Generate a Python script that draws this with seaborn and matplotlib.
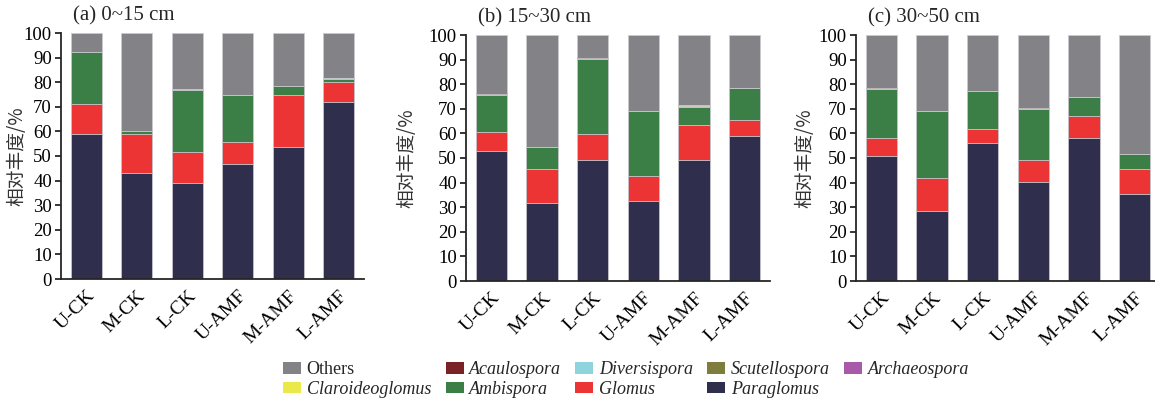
import numpy as np
import pandas as pd
import matplotlib
matplotlib.use("Agg")
import matplotlib.pyplot as plt
from matplotlib.patches import Patch
import seaborn as sns

## data (relative abundance, %), one list per soil depth: (a), (b), (c)
groups = ["U-CK", "M-CK", "L-CK", "U-AMF", "M-AMF", "L-AMF"]
depth_titles = ["(a) 0~15 cm", "(b) 15~30 cm", "(c) 30~50 cm"]

paraglomus = [[59.0, 42.9, 39.1, 46.7, 53.5, 72.0],
              [53.0, 31.7, 49.3, 32.5, 49.3, 59.1],
              [50.8, 28.3, 56.0, 40.1, 58.1, 35.4]]
glomus = [[12.2, 15.9, 12.7, 8.9, 21.1, 8.2],
          [7.7, 13.8, 10.5, 10.3, 14.0, 6.5],
          [7.5, 13.6, 5.8, 9.1, 9.0, 10.0]]
ambispora = [[20.9, 1.2, 24.9, 19.0, 4.0, 1.1],
             [14.9, 9.1, 30.6, 26.4, 7.6, 12.9],
             [19.9, 27.2, 15.4, 20.9, 7.7, 6.1]]
claroideoglomus = [[0, 0, 0.1, 0, 0, 0],
                   [0, 0, 0, 0, 0.3, 0],
                   [0, 0, 0, 0, 0, 0]]
archaeospora = [[0, 0, 0, 0, 0, 0],
                [0, 0, 0, 0, 0, 0],
                [0, 0, 0, 0, 0, 0]]
scutellospora = [[0, 0, 0.3, 0, 0, 0],
                 [0, 0, 0, 0, 0.3, 0],
                 [0, 0, 0, 0, 0, 0.3]]
diversispora = [[0, 0, 0, 0.3, 0, 0.3],
                [0, 0, 0, 0, 0, 0],
                [0, 0, 0, 0, 0, 0]]
acaulospora = [[0.1, 0, 0, 0, 0, 0],
               [0.3, 0, 0.2, 0, 0, 0],
               [0.3, 0, 0, 0.2, 0, 0]]

# bottom -> top stacking order
genera = ["Paraglomus", "Glomus", "Ambispora", "Claroideoglomus",
          "Archaeospora", "Scutellospora", "Diversispora", "Acaulospora", "Others"]
genus_values = [paraglomus, glomus, ambispora, claroideoglomus,
                archaeospora, scutellospora, diversispora, acaulospora]
colors = {"Others": "#838387", "Acaulospora": "#7b2226", "Diversispora": "#8fd3dc",
          "Scutellospora": "#7e7d3e", "Archaeospora": "#a75aa8",
          "Claroideoglomus": "#ebe94a", "Ambispora": "#3c7f46",
          "Glomus": "#ec3434", "Paraglomus": "#2f2e4d"}

sns.set_theme(style="ticks")
plt.rcParams["font.family"] = ["Liberation Serif", "Noto Sans CJK SC"]
plt.rcParams["axes.linewidth"] = 1.3

fig = plt.figure(figsize=(11.55, 4.04), dpi=100)

# axes boxes in pixels (left, top, width, height)
boxes = [(61, 33, 303, 246), (466, 35, 304, 246), (856, 35, 304, 246)]
ylabel_x = [-0.112, -0.161, -0.135]

for d in range(3):
    l, t, w, h = boxes[d]
    ax = fig.add_axes([l / 1155, 1 - (t + h) / 404, w / 1155, h / 404])

    df = pd.DataFrame({g: v[d] for g, v in zip(genera[:-1], genus_values)}, index=groups)
    df["Others"] = 100 - df.sum(axis=1)
    cum = df.cumsum(axis=1)

    # draw cumulative totals from the top layer down so lower layers cover them
    for g in reversed(genera):
        sns.barplot(x=groups, y=cum[g].values, color=colors[g], saturation=1,
                    width=0.62, edgecolor="#c9c9cf", linewidth=0.6, ax=ax)

    ax.set_xlim(-0.5, 5.5)
    ax.set_ylim(0, 100)
    ax.set_yticks(np.arange(0, 101, 10))
    ax.set_xticks(range(len(groups)))
    ax.set_xticklabels(groups, rotation=45, ha="right", rotation_mode="anchor")
    ax.tick_params(axis="y", labelsize=13.5, length=4.5, width=1.1, pad=2, colors="black")
    ax.tick_params(axis="x", labelsize=14, length=0, pad=6, colors="black")
    sns.despine(ax=ax)
    ax.set_ylabel("相对丰度/%", fontsize=13.5, family=["Noto Sans CJK SC"], color="#333333")
    ax.yaxis.set_label_coords(ylabel_x[d], 0.5)
    ax.text(0.04, 1.03, depth_titles[d], transform=ax.transAxes, fontsize=15,
            ha="left", va="bottom")

# legend laid out row-wise (matplotlib fills column by column)
row1 = ["Others", "Acaulospora", "Diversispora", "Scutellospora", "Archaeospora"]
row2 = ["Claroideoglomus", "Ambispora", "Glomus", "Paraglomus"]
order = []
for i in range(5):
    order.append(row1[i])
    if i < len(row2):
        order.append(row2[i])
handles = [Patch(facecolor=colors[g], edgecolor="none") for g in order]
leg = fig.legend(handles, order, ncol=5, loc="upper left",
                 bbox_to_anchor=(276 / 1155, 1 - 354 / 404), frameon=False,
                 fontsize=13, handlelength=1.0, handleheight=0.6, handletextpad=0.3,
                 columnspacing=0.8, labelspacing=0.15, borderaxespad=0)
for txt in leg.get_texts():
    if txt.get_text() != "Others":
        txt.set_style("italic")

fig.savefig("out.png", dpi=100)
